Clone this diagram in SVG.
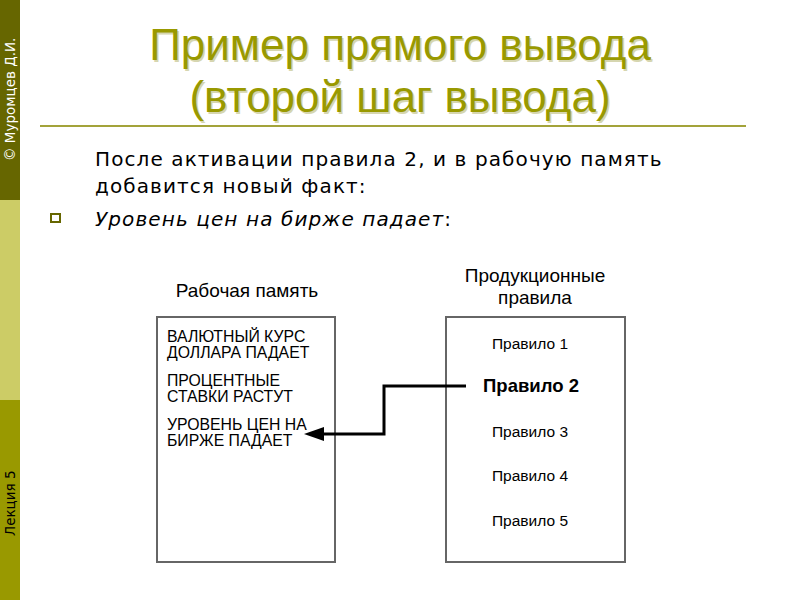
<svg xmlns="http://www.w3.org/2000/svg" width="800" height="600" viewBox="0 0 800 600">
<defs>
<style>
.title{font-family:"Liberation Sans",Arial,sans-serif;font-size:44px;fill:#999900;text-anchor:middle}
.shadow{fill:#d6d6b0}
.body{font-family:"DejaVu Sans",Verdana,sans-serif;font-size:20px;letter-spacing:1.1px;fill:#000}
.hdr{font-family:"Liberation Sans",Arial,sans-serif;font-size:19px;fill:#000;text-anchor:middle}
.fact{font-family:"Liberation Sans",Arial,sans-serif;font-size:15.8px;fill:#000}
.rule{font-family:"Liberation Sans",Arial,sans-serif;font-size:15.5px;fill:#000;text-anchor:middle}
.rule.active{font-size:18.5px;font-weight:bold}
.box{fill:#fff;stroke:#666;stroke-width:2}
.side{font-family:"DejaVu Sans",Tahoma,sans-serif;font-size:13.5px}
</style>
</defs>
<rect width="800" height="600" fill="#fff"/>
<g id="sidebar">
<rect x="0" y="0" width="20" height="200" fill="#666600"/>
<rect x="0" y="200" width="20" height="200" fill="#cccc66"/>
<rect x="0" y="400" width="20" height="200" fill="#999900"/>
<text class="side" fill="#fff" transform="translate(15,161) rotate(-90)">© Муромцев Д.И.</text>
<text class="side" fill="#000" transform="translate(15,536) rotate(-90)">Лекция 5</text>
</g>
<g id="title">
<text class="title shadow" x="401.5" y="61.5">Пример прямого вывода</text>
<text class="title shadow" x="401.5" y="113.5">(второй шаг вывода)</text>
<text class="title" x="400" y="60">Пример прямого вывода</text>
<text class="title" x="400" y="112">(второй шаг вывода)</text>
<line x1="40" y1="126" x2="746" y2="126" stroke="#a3a33a" stroke-width="2"/>
</g>
<g id="body">
<text class="body" x="95" y="166">После активации правила 2, и в рабочую память</text>
<text class="body" x="95" y="193">добавится новый факт:</text>
<rect x="51" y="214" width="9" height="8" fill="#fff" stroke="#666600" stroke-width="2"/>
<text class="body" x="95" y="226"><tspan font-style="italic">Уровень цен на бирже падает</tspan>:</text>
</g>
<g id="working-memory">
<text class="hdr" x="247" y="297">Рабочая память</text>
<rect class="box" x="157" y="317" width="178" height="245"/>
<text class="fact" x="167" y="342">ВАЛЮТНЫЙ КУРС</text>
<text class="fact" x="167" y="358">ДОЛЛАРА ПАДАЕТ</text>
<text class="fact" x="167" y="386">ПРОЦЕНТНЫЕ</text>
<text class="fact" x="167" y="402">СТАВКИ РАСТУТ</text>
<text class="fact" x="167" y="430">УРОВЕНЬ ЦЕН НА</text>
<text class="fact" x="167" y="446">БИРЖЕ ПАДАЕТ</text>
</g>
<g id="production-rules">
<text class="hdr" x="535" y="282">Продукционные</text>
<text class="hdr" x="535" y="304">правила</text>
<rect class="box" x="446" y="317" width="179" height="245"/>
<text class="rule" x="530" y="349">Правило 1</text>
<text class="rule active" x="531" y="392">Правило 2</text>
<text class="rule" x="530" y="437">Правило 3</text>
<text class="rule" x="530" y="481">Правило 4</text>
<text class="rule" x="530" y="526">Правило 5</text>
</g>
<g id="connectors">
<polyline points="466,386 384,386 384,434 322,434" fill="none" stroke="#000" stroke-width="3"/>
<path d="M304,434 L324,427 L324,441 z" fill="#000"/>
</g>
</svg>
